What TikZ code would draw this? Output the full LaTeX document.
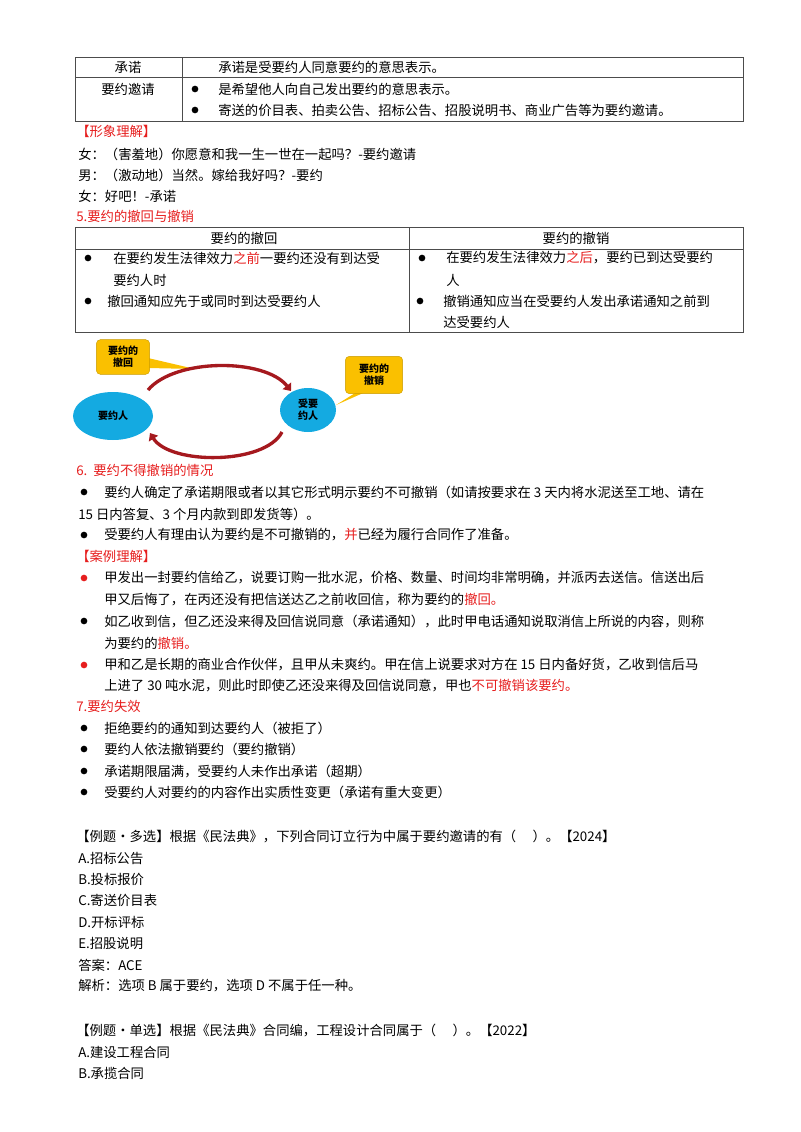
\documentclass[tikz,border=0pt]{standalone}
\usepackage{fontspec}
\setmainfont{Noto Sans CJK SC}
\usetikzlibrary{arrows.meta,shapes.geometric}
\definecolor{hred}{RGB}{230,30,30}
\definecolor{ell}{RGB}{20,170,225}
\definecolor{call}{RGB}{250,192,0}
\definecolor{arc}{RGB}{165,25,30}
\begin{document}
\begin{tikzpicture}[x=0.75pt,y=-0.75pt,
  t/.style={anchor=west,inner sep=0pt,font=\fontsize{10pt}{11pt}\selectfont},
  c/.style={anchor=center,inner sep=0pt,font=\fontsize{10pt}{11pt}\selectfont},
  r/.style={t,text=hred},
  b/.style={circle,fill=black,inner sep=0pt,minimum size=5pt},
  rb/.style={b,fill=hred},
  tab/.style={draw=black!70,line width=0.6pt},
  dg/.style={c,font=\fontsize{7.5pt}{9pt}\selectfont\bfseries},
  callout/.style={fill=call,rounded corners=3pt,draw=call!80!black,line width=0.3pt},
  arcline/.style={draw=arc,line width=2.5pt,-{Triangle[length=5pt,width=8pt]}}]
\useasboundingbox (0,0) rectangle (800,1132);
% table 1
\draw[tab] (75,57) rectangle (743,121) (75,77) -- (743,77) (182,57) -- (182,121);
\node[c] (a1) at (128,67) {承诺};
\node[t] (a2) at (218,67) {承诺是受要约人同意要约的意思表示。};
\node[c] (a3) at (128,89) {要约邀请};
\node[b] (a4) at (195,89) {}; \node[t] (a5) at (218,89) {是希望他人向自己发出要约的意思表示。};
\node[b] (a6) at (195,110) {}; \node[t] (a7) at (218,110) {寄送的价目表、拍卖公告、招标公告、招股说明书、商业广告等为要约邀请。};
\node[r] (h1) at (76,131) {【形象理解】};
\node[t] (l1) at (78,154) {女：（害羞地）你愿意和我一生一世在一起吗？-要约邀请};
\node[t] (l2) at (78,175) {男：（激动地）当然。嫁给我好吗？-要约};
\node[t] (l3) at (78,196) {女：好吧！-承诺};
\node[r] (h2) at (76,216) {5.要约的撤回与撤销};
% table 2
\draw[tab] (75,227) rectangle (743,332) (75,249) -- (743,249) (409,227) -- (409,332);
\node[c] (b1) at (244,238) {要约的撤回};
\node[c] (b2) at (576,238) {要约的撤销};
\node[b] (b3) at (88,258) {}; \node[t] (b4) at (113,258) {在要约发生法律效力\textcolor{hred}{之前}一要约还没有到达受};
\node[t] (b5) at (113,280) {要约人时};
\node[b] (b6) at (88,301) {}; \node[t] (b7) at (107,301) {撤回通知应先于或同时到达受要约人};
\node[b] (b8) at (422,258) {}; \node[t] (b9) at (446,258) {在要约发生法律效力\textcolor{hred}{之后}，要约已到达受要约};
\node[t] (b10) at (446,280) {人};
\node[b] (b11) at (420,301) {}; \node[t] (b12) at (443,301) {撤销通知应当在受要约人发出承诺通知之前到};
\node[t] (b13) at (443,322) {达受要约人};
% diagram
\fill[call] (148,358) -- (195,369) -- (148,368) -- cycle;
\fill[call] (360,390) -- (336,405) -- (370,390) -- cycle;
\node[callout,minimum width=40pt,minimum height=26pt] (k1) at (123,357) {};
\node[dg,align=center] (k1t) at (123,357) {要约的\\撤回};
\node[callout,minimum width=43pt,minimum height=28pt] (k2) at (374,375) {};
\node[dg,align=center] (k2t) at (374,375) {要约的\\撤销};
\node[ellipse,fill=ell,minimum width=60pt,minimum height=36pt,inner sep=0pt] (e1) at (113,416) {};
\node[dg] (e1t) at (113,416) {要约人};
\node[ellipse,fill=ell,minimum width=42pt,minimum height=33pt,inner sep=0pt] (e2) at (308,410) {};
\node[dg,align=center] (e2t) at (308,410) {受要\\约人};
\coordinate (p1) at (148,390); \coordinate (p2) at (291,391);
\coordinate (p3) at (282,432); \coordinate (p4) at (150,433);
\draw[arcline] (p1) .. controls (175,358) and (265,358) .. (p2);
\draw[arcline] (p3) .. controls (265,465) and (170,465) .. (p4);
% section 6
\node[r] (h3) at (76,470) {6.\ \ 要约不得撤销的情况};
\node[b] (c1) at (84,492) {}; \node[t] (c2) at (104,492) {要约人确定了承诺期限或者以其它形式明示要约不可撤销（如请按要求在 3 天内将水泥送至工地、请在};
\node[t] (c3) at (78,514) {15 日内答复、3 个月内款到即发货等）。};
\node[b] (c4) at (84,535) {}; \node[t] (c5) at (104,535) {受要约人有理由认为要约是不可撤销的，\textcolor{hred}{并}已经为履行合同作了准备。};
\node[r] (h4) at (76,556) {【案例理解】};
\node[rb] (d1) at (84,578) {}; \node[t] (d2) at (104,578) {甲发出一封要约信给乙，说要订购一批水泥，价格、数量、时间均非常明确，并派丙去送信。信送出后};
\node[t] (d3) at (104,600) {甲又后悔了，在丙还没有把信送达乙之前收回信，称为要约的\textcolor{hred}{撤回。}};
\node[b] (d4) at (84,621) {}; \node[t] (d5) at (104,621) {如乙收到信，但乙还没来得及回信说同意（承诺通知），此时甲电话通知说取消信上所说的内容，则称};
\node[t] (d6) at (104,643) {为要约的\textcolor{hred}{撤销。}};
\node[rb] (d7) at (84,665) {}; \node[t] (d8) at (104,665) {甲和乙是长期的商业合作伙伴，且甲从未爽约。甲在信上说要求对方在 15 日内备好货，乙收到信后马};
\node[t] (d9) at (104,686) {上进了 30 吨水泥，则此时即使乙还没来得及回信说同意，甲也\textcolor{hred}{不可撤销该要约。}};
\node[r] (h5) at (76,706) {7.要约失效};
\node[b] (f1) at (84,728) {}; \node[t] (f2) at (104,728) {拒绝要约的通知到达要约人（被拒了）};
\node[b] (f3) at (84,749) {}; \node[t] (f4) at (104,749) {要约人依法撤销要约（要约撤销）};
\node[b] (f5) at (84,771) {}; \node[t] (f6) at (104,771) {承诺期限届满，受要约人未作出承诺（超期）};
\node[b] (f7) at (84,792) {}; \node[t] (f8) at (104,792) {受要约人对要约的内容作出实质性变更（承诺有重大变更）};
% examples
\node[t] (g1) at (76,836) {【例题·多选】根据《民法典》，下列合同订立行为中属于要约邀请的有（\quad\ ）。【2024】};
\node[t] (g2) at (78,858) {A.招标公告};
\node[t] (g3) at (78,879) {B.投标报价};
\node[t] (g4) at (78,900) {C.寄送价目表};
\node[t] (g5) at (78,922) {D.开标评标};
\node[t] (g6) at (78,943) {E.招股说明};
\node[t] (g7) at (78,965) {答案：ACE};
\node[t] (g8) at (78,986) {解析：选项 B 属于要约，选项 D 不属于任一种。};
\node[t] (g9) at (76,1030) {【例题·单选】根据《民法典》合同编，工程设计合同属于（\quad\ ）。【2022】};
\node[t] (g10) at (78,1052) {A.建设工程合同};
\node[t] (g11) at (78,1073) {B.承揽合同};
\end{tikzpicture}
\end{document}
